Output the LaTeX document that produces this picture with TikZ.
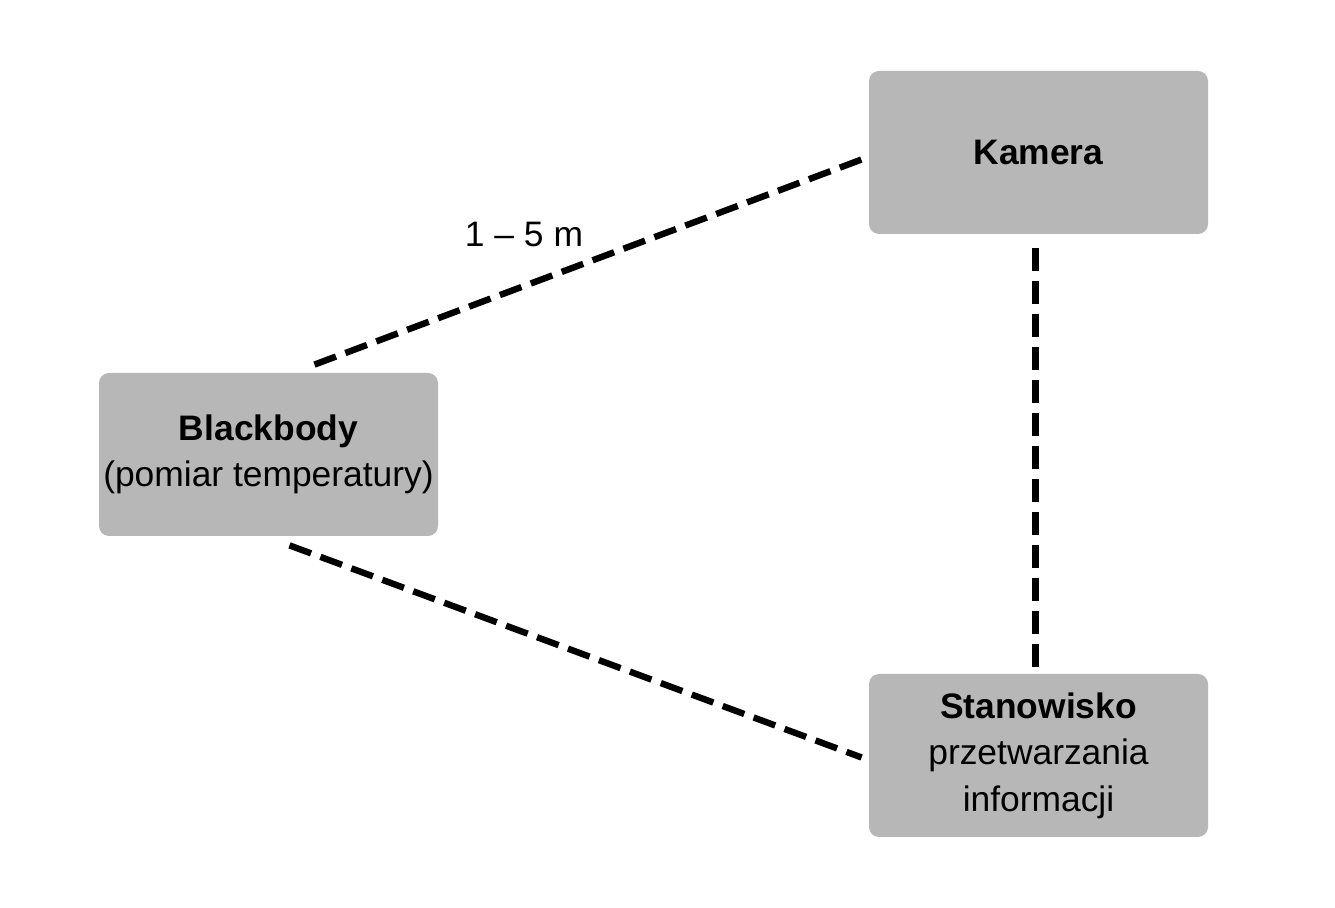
\documentclass[tikz,border=0pt]{standalone}
\usepackage{fontspec}
\setmainfont{Liberation Sans}
\usepackage{tikz}
\usetikzlibrary{positioning, calc}
\definecolor{boxgray}{HTML}{B7B7B7}
\tikzset{
    box/.style={fill=boxgray, rounded corners=5pt, minimum width=169.5pt,
        minimum height=81.5pt, align=center, inner sep=0pt,
        font=\fontsize{17.7}{23.3}\selectfont},
    link/.style={black, line width=3.2pt, dash pattern=on 11.5pt off 5pt}
}
\begin{document}
\begin{tikzpicture}[x=0.5pt, y=-0.5pt]
    \useasboundingbox[fill=white] (0,0) rectangle (1335,908);

    % boxes
    \node[box] (kam) at (1038.5,152.5) {\textbf{Kamera}};
    \node[box] (bb) at (268.5,454.5) {\textbf{Blackbody}\\(pomiar temperatury)};
    \node[box] (stan) at (1038.5,755.5) {\textbf{Stanowisko}\\przetwarzania\\informacji};

    % connections
    \draw[link] ([shift={(46,-8)}]bb.north) -- ([shift={(-7,7)}]kam.west);
    \draw[link] ([shift={(21,9)}]bb.south) -- ([shift={(-7,2)}]stan.west);
    \draw[link] ([shift={(-3,14)}]kam.south) -- ([shift={(-3,-7)}]stan.north);

    % distance
    \node[font=\fontsize{17.7}{23.3}\selectfont] (dist) at (524,235) {1 -- 5 m};
\end{tikzpicture}
\end{document}
